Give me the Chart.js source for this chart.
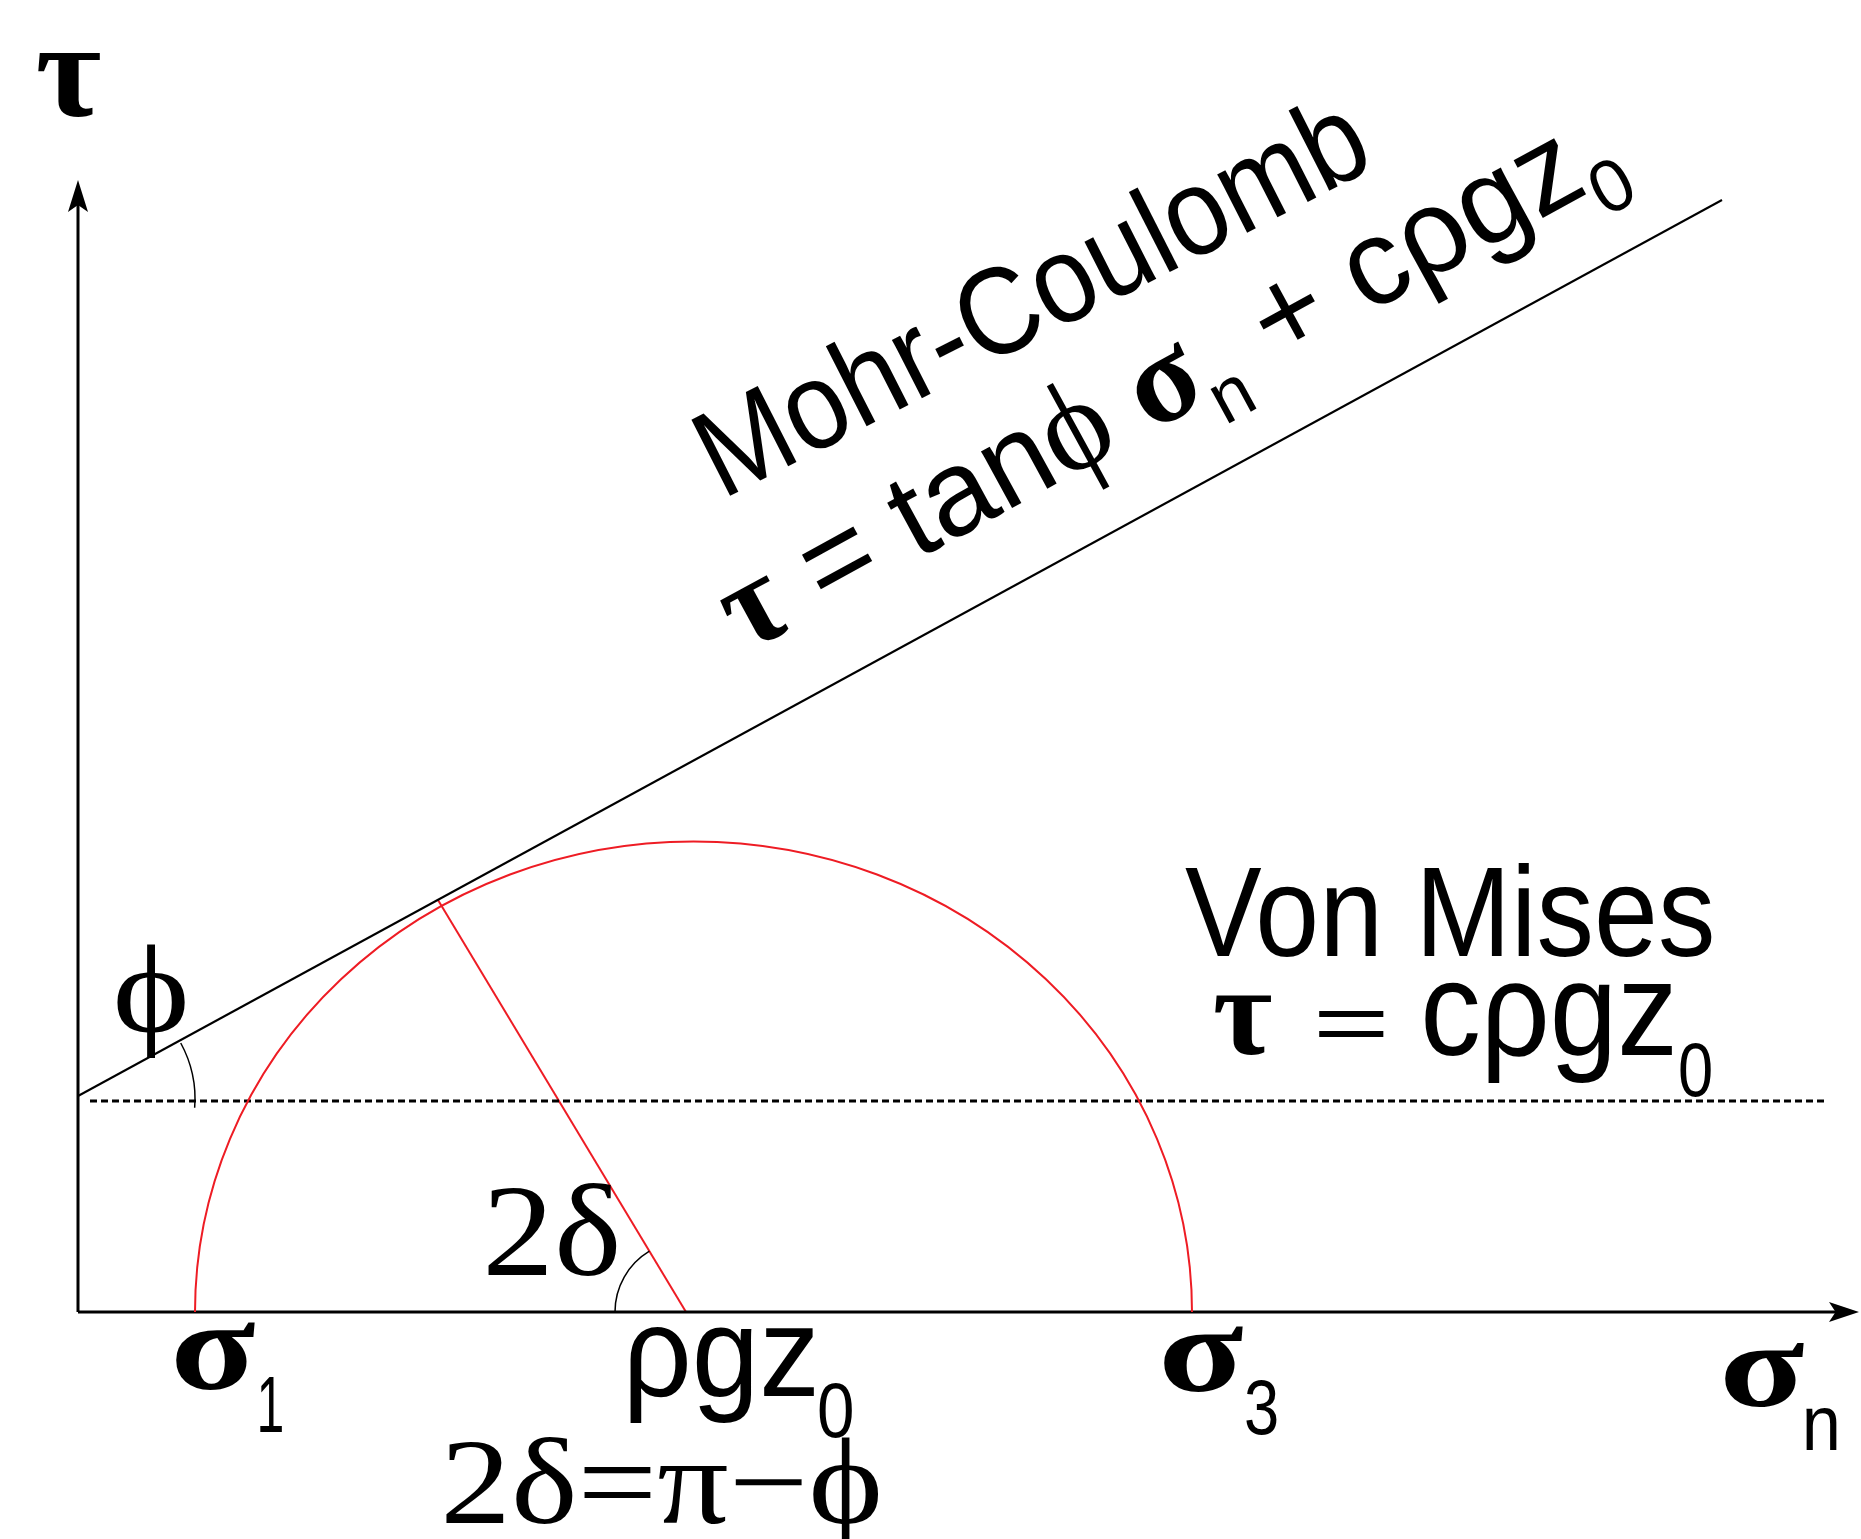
<!DOCTYPE html>
<html>
<head>
<meta charset="utf-8">
<script src="https://cdn.jsdelivr.net/npm/chart.js@4/dist/chart.umd.min.js"></script>
<style>
  html, body { margin: 0; padding: 0; background: #ffffff; }
  #wrap { width: 1861px; height: 1539px; position: relative; }
</style>
</head>
<body>
<div id="wrap"><canvas id="c"></canvas></div>
<script>
// ---- data (normal stress sigma_n on x, shear stress tau on y; arbitrary units) ----
const axisSigma = [0, 17.83];          // x-axis extent
const axisTau = [0, 11.32];            // y-axis extent
const mohrCoulombSigma = [0, 16.44];   // failure envelope tau = tan(phi) sigma_n + c rho g z0
const mohrCoulombTau = [2.16, 11.12];
const vonMisesSigma = [0.12, 17.48];   // tau = c rho g z0
const vonMisesTau = [2.11, 2.11];
const principalStress = [1.17, 11.14]; // sigma1, sigma3
const circleTauMax = [4.705];          // top of the Mohr circle
const radiusSigma = [6.08, 3.60];      // rho g z0 -> tangent point
const radiusTau = [0, 4.12];

const SANS = '"Liberation Sans", Arial, Helvetica, sans-serif';
const SERIF = '"Liberation Serif", "Times New Roman", "DejaVu Serif", serif';

function pts(xs, ys) { return xs.map((x, i) => ({ x: x, y: ys[i] })); }

// fit a text run into a pixel box [x0, y0, x1, y1] (ink bounds)
function fitText(ctx, text, weight, family, box) {
  ctx.save();
  ctx.font = weight + ' 100px ' + family;
  const m = ctx.measureText(text);
  const w = m.actualBoundingBoxLeft + m.actualBoundingBoxRight;
  const h = m.actualBoundingBoxAscent + m.actualBoundingBoxDescent;
  const [x0, y0, x1, y1] = box;
  ctx.translate(x0, y0);
  ctx.scale((x1 - x0) / w, (y1 - y0) / h);
  ctx.fillStyle = '#000';
  ctx.textBaseline = 'alphabetic';
  ctx.fillText(text, m.actualBoundingBoxLeft, m.actualBoundingBoxAscent);
  ctx.restore();
}

// draw a rotated line of mixed runs from baseline start to baseline end
function rotatedRuns(ctx, start, end, runs) {
  ctx.save();
  let total = 0;
  const widths = runs.map(r => {
    ctx.font = (r.weight || 'normal') + ' ' + r.size + 'px ' + r.family;
    const w = ctx.measureText(r.text).width;
    total += w;
    return w;
  });
  const dx = end[0] - start[0], dy = end[1] - start[1];
  const length = Math.hypot(dx, dy);
  ctx.translate(start[0], start[1]);
  ctx.rotate(Math.atan2(dy, dx));
  ctx.scale(length / total, 1);
  ctx.fillStyle = '#000';
  ctx.textBaseline = 'alphabetic';
  let x = 0;
  runs.forEach((r, i) => {
    ctx.font = (r.weight || 'normal') + ' ' + r.size + 'px ' + r.family;
    ctx.fillText(r.text, x, r.dy || 0);
    x += widths[i];
  });
  ctx.restore();
}

function arrowHead(ctx, tip, dir, len, half) {
  const [dx, dy] = dir;
  const nx = -dy, ny = dx;
  const bx = tip[0] - dx * len, by = tip[1] - dy * len;
  const nb = 0.22 * len;
  ctx.beginPath();
  ctx.moveTo(tip[0], tip[1]);
  ctx.lineTo(bx + nx * half, by + ny * half);
  ctx.lineTo(tip[0] - dx * (len - nb), tip[1] - dy * (len - nb));
  ctx.lineTo(bx - nx * half, by - ny * half);
  ctx.closePath();
  ctx.fillStyle = '#000';
  ctx.fill();
}

const diagramPlugin = {
  id: 'diagram',
  afterDatasetsDraw(chart) {
    const ctx = chart.ctx;
    const xs = chart.scales.x, ys = chart.scales.y;
    const px = v => xs.getPixelForValue(v);
    const py = v => ys.getPixelForValue(v);

    // arrowheads
    arrowHead(ctx, [px(axisSigma[0]), py(axisTau[1])], [0, -1], 32, 10);
    arrowHead(ctx, [px(axisSigma[1]) - 2, py(axisTau[0])], [1, 0], 30, 10);

    // Mohr circle (red half ellipse in pixel space)
    const cx = px((principalStress[0] + principalStress[1]) / 2);
    const rx = px(principalStress[1]) - cx;
    const ry = py(0) - py(circleTauMax[0]);
    ctx.save();
    ctx.beginPath();
    ctx.ellipse(cx, py(0), rx, ry, 0, Math.PI, 2 * Math.PI);
    ctx.strokeStyle = '#ee1c24';
    ctx.lineWidth = 2;
    ctx.stroke();
    ctx.restore();

    // angle arc phi at the envelope intercept
    const ix = px(mohrCoulombSigma[0]), iy = py(mohrCoulombTau[0]);
    const slope = Math.atan2(py(mohrCoulombTau[0]) - py(mohrCoulombTau[1]), px(mohrCoulombSigma[1]) - px(mohrCoulombSigma[0]));
    ctx.save();
    ctx.beginPath();
    ctx.arc(ix, iy + 3, 117, -slope, 0.075);
    ctx.strokeStyle = '#000';
    ctx.lineWidth = 1.5;
    ctx.stroke();
    // angle arc 2 delta at rho g z0
    const ox = px(radiusSigma[0]), oy = py(radiusTau[0]);
    const ang = Math.atan2(py(radiusTau[1]) - oy, px(radiusSigma[1]) - ox);
    ctx.beginPath();
    ctx.arc(ox, oy, 71, Math.PI, ang + 2 * Math.PI);
    ctx.stroke();
    ctx.restore();

    // ---- labels ----
    fitText(ctx, '\u03C4', 'bold', SERIF, [37, 53, 100, 117]);
    fitText(ctx, '\u03D5', 'normal', SERIF, [117, 944, 186, 1057]);
    fitText(ctx, '2\u03B4', 'normal', SERIF, [488, 1183, 617, 1276]);

    fitText(ctx, '\u03C3', 'bold', SERIF, [175, 1323, 255, 1390]);
    fitText(ctx, '1', 'normal', SANS, [260, 1377, 282, 1432]);
    fitText(ctx, '\u03C1gz', 'normal', SANS, [630, 1327, 815, 1423]);
    fitText(ctx, '0', 'normal', SANS, [819, 1383, 852, 1438]);
    fitText(ctx, '\u03C3', 'bold', SERIF, [1163, 1327, 1243, 1392]);
    fitText(ctx, '3', 'normal', SANS, [1246, 1380, 1277, 1435]);
    fitText(ctx, '\u03C3', 'bold', SERIF, [1724, 1343, 1804, 1407]);
    fitText(ctx, 'n', 'normal', SANS, [1806, 1408, 1837, 1450]);

    // bottom relation (partly cut by the lower edge)
    ctx.save();
    ctx.font = 'normal 122px ' + SERIF;
    const t = '2\u03B4=\u03C0\u2212\u03D5';
    const mw = ctx.measureText(t);
    const ww = mw.actualBoundingBoxLeft + mw.actualBoundingBoxRight;
    ctx.translate(446, 1523);
    ctx.scale(432 / ww, 1);
    ctx.fillStyle = '#000';
    ctx.fillText(t, mw.actualBoundingBoxLeft, 0);
    ctx.restore();

    // Von Mises
    fitText(ctx, 'Von Mises', 'normal', SANS, [1185, 862, 1712, 957]);
    fitText(ctx, '\u03C4', 'bold', SERIF, [1214, 995, 1271, 1055]);
    fitText(ctx, '=', 'normal', SANS, [1318, 1010, 1384, 1037]);
    fitText(ctx, 'c\u03C1gz', 'normal', SANS, [1425, 983, 1673, 1083]);
    fitText(ctx, '0', 'normal', SANS, [1680, 1043, 1711, 1097]);

    // Mohr-Coulomb (rotated)
    rotatedRuns(ctx, [722, 500], [1378, 166], [
      { text: 'Mohr-Coulomb', size: 124, family: SANS }
    ]);
    rotatedRuns(ctx, [745, 654], [1627, 172], [
      { text: '\u03C4', size: 128, family: SERIF, weight: 'bold' },
      { text: ' = tan', size: 122, family: SANS },
      { text: '\u03D5', size: 130, family: SERIF },
      { text: ' \u03C3', size: 128, family: SERIF, weight: 'bold' },
      { text: 'n', size: 74, family: SANS, dy: 30 },
      { text: ' + c\u03C1gz', size: 122, family: SANS },
      { text: '0', size: 74, family: SANS, dy: 30 }
    ]);
  }
};

const lineDs = (data, color, width, dash) => ({
  data: data, showLine: true, borderColor: color, borderWidth: width,
  borderDash: dash || [], pointRadius: 0, clip: false, fill: false, tension: 0
});

new Chart(document.getElementById('c'), {
  type: 'scatter',
  data: {
    datasets: [
      lineDs(pts([axisSigma[0], axisSigma[1] - 20 / 100], [0, 0]), '#000', 3),
      lineDs(pts([0, 0], [axisTau[0], axisTau[1] - 0.2]), '#000', 3),
      lineDs(pts(vonMisesSigma, vonMisesTau), '#000', 3, [7, 4]),
      lineDs(pts(mohrCoulombSigma, mohrCoulombTau), '#000', 2),
      lineDs(pts(radiusSigma, radiusTau), '#ee1c24', 2)
    ]
  },
  options: {
    responsive: true,
    maintainAspectRatio: false,
    animation: false,
    layout: { padding: { left: 78, top: 180, right: 0, bottom: 227 } },
    plugins: { legend: { display: false }, tooltip: { enabled: false }, title: { display: false } },
    scales: {
      x: { type: 'linear', min: axisSigma[0], max: axisSigma[1], display: false },
      y: { type: 'linear', min: axisTau[0], max: axisTau[1], display: false }
    },
    events: []
  },
  plugins: [diagramPlugin]
});
</script>
</body>
</html>
